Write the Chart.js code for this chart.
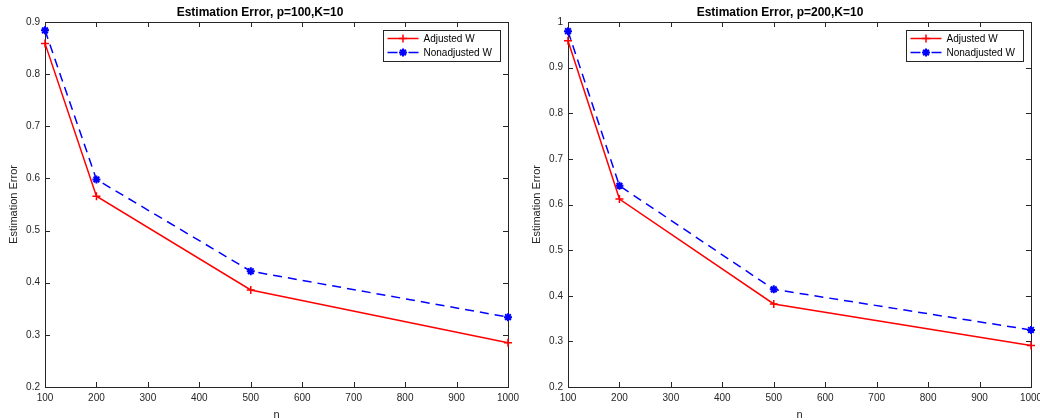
<!DOCTYPE html>
<html><head><meta charset="utf-8">
<script src="https://cdn.jsdelivr.net/npm/chart.js@4.4.0/dist/chart.umd.min.js"></script>
<style>
html,body{margin:0;padding:0;background:#fff;}
#wrap{position:relative;width:1040px;height:420px;overflow:hidden;background:#fff;}
canvas{position:absolute;top:0;}
</style></head><body>
<div id="wrap">
<canvas id="c1" width="520" height="420" style="left:0px"></canvas>
<canvas id="c2" width="520" height="420" style="left:520px"></canvas>
</div>
<script>
// ---- data ----
const nValues = [100, 200, 500, 1000];
const adjustedP100 = [0.859, 0.566, 0.386, 0.285];
const nonadjustedP100 = [0.884, 0.598, 0.422, 0.334];
const adjustedP200 = [0.959, 0.612, 0.382, 0.291];
const nonadjustedP200 = [0.980, 0.641, 0.414, 0.325];
const xTicks = [100, 200, 300, 400, 500, 600, 700, 800, 900, 1000];
const yTicksP100 = [0.2, 0.3, 0.4, 0.5, 0.6, 0.7, 0.8, 0.9];
const yTicksP200 = [0.2, 0.3, 0.4, 0.5, 0.6, 0.7, 0.8, 0.9, 1];
const seriesNames = ['Adjusted W', 'Nonadjusted W'];
const chartTitles = ['Estimation Error, p=100,K=10', 'Estimation Error, p=200,K=10'];
const xTitle = 'n';
const yTitle = 'Estimation Error';

const FONT = '"Liberation Sans", Arial, Helvetica, sans-serif';
const AXC = '#262626';

function drawMarker(ctx, style, x, y, r) {
  ctx.beginPath();
  ctx.moveTo(x - r, y); ctx.lineTo(x + r, y);
  ctx.moveTo(x, y - r); ctx.lineTo(x, y + r);
  if (style === 'star') {
    const d = r * Math.SQRT1_2;
    ctx.moveTo(x - d, y - d); ctx.lineTo(x + d, y + d);
    ctx.moveTo(x - d, y + d); ctx.lineTo(x + d, y - d);
  }
  ctx.stroke();
}

const boxPlugin = {
  id: 'matlabBox',
  beforeDatasetsDraw(chart) {
    const ctx = chart.ctx;
    const {left, right, top, bottom} = chart.chartArea;
    const xs = chart.scales.x, ys = chart.scales.y;
    ctx.save();
    ctx.strokeStyle = AXC;
    ctx.lineWidth = 1;
    ctx.strokeRect(left + 0.5, top + 0.5, right - left, bottom - top);
    const tl = 5;
    ctx.beginPath();
    xs.ticks.forEach(t => {
      const p = Math.round(xs.getPixelForValue(t.value)) + 0.5;
      ctx.moveTo(p, bottom); ctx.lineTo(p, bottom - tl);
      ctx.moveTo(p, top); ctx.lineTo(p, top + tl);
    });
    ys.ticks.forEach(t => {
      const p = Math.round(ys.getPixelForValue(t.value)) + 0.5;
      ctx.moveTo(left, p); ctx.lineTo(left + tl, p);
      ctx.moveTo(right, p); ctx.lineTo(right - tl, p);
    });
    ctx.stroke();
    ctx.restore();
  },
  afterDraw(chart) {
    const ctx = chart.ctx;
    const {right, top} = chart.chartArea;
    const w = 117, h = 31;
    const bx = Math.round(right - 8 - w) + 0.5, by = Math.round(top + 8) + 0.5;
    ctx.save();
    ctx.fillStyle = '#fff';
    ctx.fillRect(bx, by, w, h);
    ctx.strokeStyle = AXC;
    ctx.lineWidth = 1;
    ctx.strokeRect(bx, by, w, h);
    chart.data.datasets.forEach((ds, i) => {
      const y = by + 8 + i * 14;
      ctx.strokeStyle = ds.borderColor;
      ctx.lineWidth = ds.borderWidth;
      ctx.setLineDash(ds.borderDash ? [10, 11, 10] : []);
      ctx.beginPath();
      ctx.moveTo(bx + 4, y); ctx.lineTo(bx + 35, y);
      ctx.stroke();
      ctx.setLineDash([]);
      ctx.lineWidth = ds.pointBorderWidth;
      drawMarker(ctx, ds.pointStyle, bx + 19.5, y, ds.pointRadius);
      ctx.fillStyle = '#000';
      ctx.font = '10px ' + FONT;
      ctx.textBaseline = 'middle';
      ctx.textAlign = 'left';
      ctx.fillText(ds.label, bx + 40, y + 0.5);
    });
    ctx.restore();
  }
};

function makeChart(id, title, adj, nonadj, yTicks, yMax, yWidth, yTitlePad) {
  const toPts = arr => nValues.map((n, i) => ({x: n, y: arr[i]}));
  return new Chart(document.getElementById(id), {
    type: 'line',
    data: {
      datasets: [
        {
          label: seriesNames[0], data: toPts(adj),
          borderColor: '#ff0000', backgroundColor: '#ff0000', borderWidth: 1.5,
          pointStyle: 'cross', pointRadius: 4, pointBorderWidth: 1.5,
          pointBorderColor: '#ff0000', tension: 0, clip: false
        },
        {
          label: seriesNames[1], data: toPts(nonadj),
          borderColor: '#0000ff', backgroundColor: '#0000ff', borderWidth: 1.5,
          borderDash: [9, 6],
          pointStyle: 'star', pointRadius: 4, pointBorderWidth: 2,
          pointBorderColor: '#0000ff', tension: 0, clip: false
        }
      ]
    },
    options: {
      responsive: false, animation: false, events: [],
      layout: {padding: 0},
      plugins: {
        legend: {display: false},
        tooltip: {enabled: false},
        title: {
          display: true, text: title, color: '#000',
          font: {family: FONT, size: 12, weight: 'bold', lineHeight: 1.2},
          padding: {top: 5, bottom: 2.6}
        }
      },
      scales: {
        x: {
          type: 'linear', min: 100, max: 1000,
          afterBuildTicks: s => { s.ticks = xTicks.map(v => ({value: v})); },
          afterFit: s => { s.height = 33; s.paddingLeft = 0; s.paddingRight = 0; },
          grid: {display: false, drawTicks: false},
          border: {display: false},
          ticks: {color: AXC, font: {family: FONT, size: 10}, padding: 5, maxRotation: 0, autoSkip: false,
                  callback: v => String(v)},
          title: {display: true, text: xTitle, color: AXC, font: {family: FONT, size: 11, lineHeight: 1.2},
                  padding: {top: 0, bottom: -2}}
        },
        y: {
          type: 'linear', min: 0.2, max: yMax,
          afterBuildTicks: s => { s.ticks = yTicks.map(v => ({value: v})); },
          afterFit: s => { s.width = yWidth; s.paddingTop = 0; s.paddingBottom = 0; },
          grid: {display: false, drawTicks: false},
          border: {display: false},
          ticks: {color: AXC, font: {family: FONT, size: 10}, padding: 5, autoSkip: false,
                  callback: v => String(Math.round(v * 10) / 10)},
          title: {display: true, text: yTitle, color: AXC, font: {family: FONT, size: 11, lineHeight: 1.2},
                  padding: {top: yTitlePad, bottom: 0}}
        },
        yr: {
          type: 'linear', position: 'right', display: true,
          afterFit: s => { s.width = 520 - (id === 'c1' ? 508 : 511); },
          grid: {display: false, drawTicks: false}, border: {display: false},
          ticks: {display: false}
        }
      }
    },
    plugins: [boxPlugin]
  });
}

makeChart('c1', chartTitles[0], adjustedP100, nonadjustedP100, yTicksP100, 0.9, 45, 7.4);
makeChart('c2', chartTitles[1], adjustedP200, nonadjustedP200, yTicksP200, 1, 48, 10.4);
</script>
</body></html>
